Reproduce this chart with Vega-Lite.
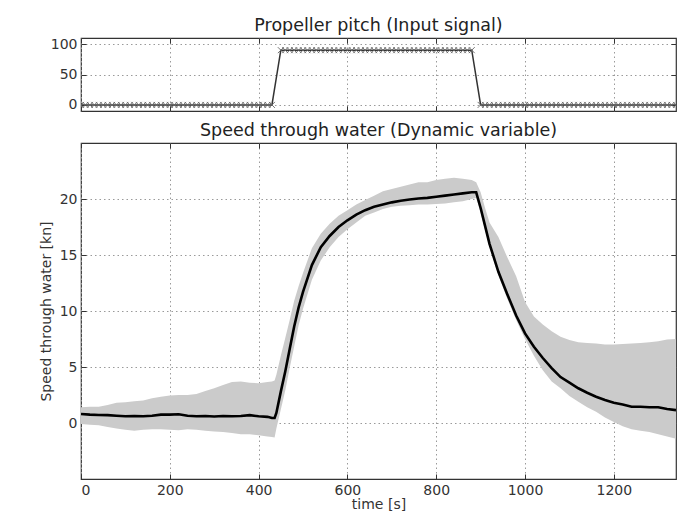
{
  "$schema": "https://vega.github.io/schema/vega-lite/v6.json",
  "background": "white",
  "padding": {"left": 38, "top": 15, "right": 21, "bottom": 5},
  "config": {
    "font": "DejaVu Sans",
    "view": {"stroke": "#333", "strokeWidth": 1.2},
    "title": {"font": "DejaVu Sans", "fontSize": 17.5, "fontWeight": "normal", "color": "#222", "baseline": "alphabetic", "offset": 3},
    "axis": {
      "labelFont": "DejaVu Sans", "titleFont": "DejaVu Sans",
      "labelFontSize": 14, "titleFontSize": 14, "titleFontWeight": "normal",
      "labelColor": "#333", "titleColor": "#333",
      "tickColor": "#333", "tickSize": -5, "tickWidth": 1, "labelPadding": 9,
      "domain": false, "grid": true, "gridColor": "#9a9a9a", "gridDash": [1.5, 3], "gridWidth": 1
    },
    "concat": {"spacing": 8}
  },
  "datasets": {
    "pitch": [
      {"t":0,"p":0},{"t":10,"p":0},{"t":20,"p":0},{"t":30,"p":0},{"t":40,"p":0},{"t":50,"p":0},{"t":60,"p":0},{"t":70,"p":0},{"t":80,"p":0},{"t":90,"p":0},
      {"t":100,"p":0},{"t":110,"p":0},{"t":120,"p":0},{"t":130,"p":0},{"t":140,"p":0},{"t":150,"p":0},{"t":160,"p":0},{"t":170,"p":0},{"t":180,"p":0},{"t":190,"p":0},
      {"t":200,"p":0},{"t":210,"p":0},{"t":220,"p":0},{"t":230,"p":0},{"t":240,"p":0},{"t":250,"p":0},{"t":260,"p":0},{"t":270,"p":0},{"t":280,"p":0},{"t":290,"p":0},
      {"t":300,"p":0},{"t":310,"p":0},{"t":320,"p":0},{"t":330,"p":0},{"t":340,"p":0},{"t":350,"p":0},{"t":360,"p":0},{"t":370,"p":0},{"t":380,"p":0},{"t":390,"p":0},
      {"t":400,"p":0},{"t":410,"p":0},{"t":420,"p":0},{"t":430,"p":0},
      {"t":450,"p":90},{"t":460,"p":90},{"t":470,"p":90},{"t":480,"p":90},{"t":490,"p":90},
      {"t":500,"p":90},{"t":510,"p":90},{"t":520,"p":90},{"t":530,"p":90},{"t":540,"p":90},{"t":550,"p":90},{"t":560,"p":90},{"t":570,"p":90},{"t":580,"p":90},{"t":590,"p":90},
      {"t":600,"p":90},{"t":610,"p":90},{"t":620,"p":90},{"t":630,"p":90},{"t":640,"p":90},{"t":650,"p":90},{"t":660,"p":90},{"t":670,"p":90},{"t":680,"p":90},{"t":690,"p":90},
      {"t":700,"p":90},{"t":710,"p":90},{"t":720,"p":90},{"t":730,"p":90},{"t":740,"p":90},{"t":750,"p":90},{"t":760,"p":90},{"t":770,"p":90},{"t":780,"p":90},{"t":790,"p":90},
      {"t":800,"p":90},{"t":810,"p":90},{"t":820,"p":90},{"t":830,"p":90},{"t":840,"p":90},{"t":850,"p":90},{"t":860,"p":90},{"t":870,"p":90},{"t":880,"p":90},
      {"t":900,"p":0},{"t":910,"p":0},{"t":920,"p":0},{"t":930,"p":0},{"t":940,"p":0},{"t":950,"p":0},{"t":960,"p":0},{"t":970,"p":0},{"t":980,"p":0},{"t":990,"p":0},
      {"t":1000,"p":0},{"t":1010,"p":0},{"t":1020,"p":0},{"t":1030,"p":0},{"t":1040,"p":0},{"t":1050,"p":0},{"t":1060,"p":0},{"t":1070,"p":0},{"t":1080,"p":0},{"t":1090,"p":0},
      {"t":1100,"p":0},{"t":1110,"p":0},{"t":1120,"p":0},{"t":1130,"p":0},{"t":1140,"p":0},{"t":1150,"p":0},{"t":1160,"p":0},{"t":1170,"p":0},{"t":1180,"p":0},{"t":1190,"p":0},
      {"t":1200,"p":0},{"t":1210,"p":0},{"t":1220,"p":0},{"t":1230,"p":0},{"t":1240,"p":0},{"t":1250,"p":0},{"t":1260,"p":0},{"t":1270,"p":0},{"t":1280,"p":0},{"t":1290,"p":0},
      {"t":1300,"p":0},{"t":1310,"p":0},{"t":1320,"p":0},{"t":1330,"p":0},{"t":1340,"p":0}
    ],
    "speed": [
      {"t":0,"m":0.8,"lo":-0.1,"hi":1.4},
      {"t":20,"m":0.75,"lo":-0.15,"hi":1.45},
      {"t":40,"m":0.72,"lo":-0.2,"hi":1.45},
      {"t":60,"m":0.7,"lo":-0.35,"hi":1.6},
      {"t":80,"m":0.65,"lo":-0.5,"hi":1.8},
      {"t":100,"m":0.6,"lo":-0.6,"hi":1.85},
      {"t":120,"m":0.62,"lo":-0.7,"hi":1.95},
      {"t":140,"m":0.6,"lo":-0.6,"hi":2.0},
      {"t":160,"m":0.65,"lo":-0.55,"hi":2.2},
      {"t":180,"m":0.75,"lo":-0.55,"hi":2.35},
      {"t":200,"m":0.75,"lo":-0.6,"hi":2.45},
      {"t":220,"m":0.78,"lo":-0.65,"hi":2.5},
      {"t":240,"m":0.65,"lo":-0.55,"hi":2.5},
      {"t":260,"m":0.6,"lo":-0.6,"hi":2.6},
      {"t":280,"m":0.62,"lo":-0.7,"hi":2.85},
      {"t":300,"m":0.58,"lo":-0.75,"hi":3.1},
      {"t":320,"m":0.62,"lo":-0.8,"hi":3.4},
      {"t":340,"m":0.6,"lo":-0.9,"hi":3.65},
      {"t":360,"m":0.62,"lo":-1.0,"hi":3.7},
      {"t":380,"m":0.7,"lo":-1.0,"hi":3.6},
      {"t":400,"m":0.6,"lo":-1.1,"hi":3.55},
      {"t":420,"m":0.55,"lo":-1.2,"hi":3.65},
      {"t":430,"m":0.45,"lo":-1.25,"hi":3.7},
      {"t":436,"m":0.45,"lo":-1.3,"hi":3.8},
      {"t":440,"m":0.9,"lo":-0.5,"hi":4.3},
      {"t":450,"m":2.8,"lo":1.2,"hi":6.0},
      {"t":460,"m":4.6,"lo":2.9,"hi":7.6},
      {"t":470,"m":6.6,"lo":4.9,"hi":9.2},
      {"t":480,"m":8.6,"lo":6.8,"hi":10.9},
      {"t":490,"m":10.3,"lo":8.7,"hi":12.2},
      {"t":500,"m":11.7,"lo":10.2,"hi":13.4},
      {"t":520,"m":14.1,"lo":12.8,"hi":15.6},
      {"t":540,"m":15.7,"lo":14.5,"hi":16.9},
      {"t":560,"m":16.7,"lo":15.7,"hi":17.8},
      {"t":580,"m":17.5,"lo":16.6,"hi":18.5},
      {"t":600,"m":18.1,"lo":17.3,"hi":19.0},
      {"t":620,"m":18.6,"lo":17.9,"hi":19.5},
      {"t":640,"m":19.0,"lo":18.5,"hi":19.9},
      {"t":660,"m":19.3,"lo":18.8,"hi":20.3},
      {"t":680,"m":19.5,"lo":19.1,"hi":20.7},
      {"t":700,"m":19.7,"lo":19.3,"hi":20.9},
      {"t":720,"m":19.85,"lo":19.4,"hi":21.1},
      {"t":740,"m":19.95,"lo":19.45,"hi":21.3},
      {"t":760,"m":20.05,"lo":19.5,"hi":21.5},
      {"t":780,"m":20.1,"lo":19.5,"hi":21.5},
      {"t":800,"m":20.2,"lo":19.55,"hi":21.7},
      {"t":820,"m":20.3,"lo":19.6,"hi":21.8},
      {"t":840,"m":20.4,"lo":19.7,"hi":21.9},
      {"t":860,"m":20.5,"lo":19.8,"hi":21.8},
      {"t":880,"m":20.6,"lo":20.0,"hi":21.7},
      {"t":890,"m":20.6,"lo":20.1,"hi":21.5},
      {"t":900,"m":19.2,"lo":18.8,"hi":20.6},
      {"t":910,"m":17.6,"lo":17.2,"hi":19.2},
      {"t":920,"m":16.0,"lo":15.7,"hi":17.9},
      {"t":940,"m":13.5,"lo":13.2,"hi":16.6},
      {"t":960,"m":11.5,"lo":11.1,"hi":14.8},
      {"t":980,"m":9.6,"lo":9.2,"hi":13.1},
      {"t":1000,"m":8.0,"lo":7.5,"hi":10.8},
      {"t":1020,"m":6.8,"lo":6.0,"hi":9.5},
      {"t":1040,"m":5.8,"lo":4.7,"hi":8.8},
      {"t":1060,"m":4.9,"lo":3.7,"hi":8.2},
      {"t":1080,"m":4.1,"lo":3.1,"hi":7.7},
      {"t":1100,"m":3.6,"lo":2.4,"hi":7.4},
      {"t":1120,"m":3.1,"lo":1.9,"hi":7.2},
      {"t":1140,"m":2.7,"lo":1.4,"hi":7.15},
      {"t":1160,"m":2.35,"lo":1.0,"hi":7.1},
      {"t":1180,"m":2.05,"lo":0.5,"hi":7.0},
      {"t":1200,"m":1.8,"lo":0.1,"hi":7.0},
      {"t":1220,"m":1.65,"lo":-0.3,"hi":7.05},
      {"t":1240,"m":1.45,"lo":-0.55,"hi":7.1},
      {"t":1260,"m":1.45,"lo":-0.7,"hi":7.15},
      {"t":1280,"m":1.4,"lo":-0.8,"hi":7.2},
      {"t":1300,"m":1.4,"lo":-1.0,"hi":7.3},
      {"t":1320,"m":1.25,"lo":-1.2,"hi":7.45},
      {"t":1340,"m":1.15,"lo":-1.4,"hi":7.5}
    ]
  },
  "vconcat": [
    {
      "title": "Propeller pitch (Input signal)",
      "width": 595,
      "height": 73,
      "data": {"name": "pitch"},
      "layer": [
        {
          "mark": {"type": "line", "color": "#333", "strokeWidth": 1.5, "clip": true},
          "encoding": {
            "x": {"field": "t", "type": "quantitative", "scale": {"domain": [0, 1340], "nice": false, "zero": false},
                  "axis": {"orient": "bottom", "title": null, "labels": false, "values": [0, 200, 400, 600, 800, 1000, 1200]}},
            "y": {"field": "p", "type": "quantitative", "scale": {"domain": [-10, 110], "nice": false},
                  "axis": {"orient": "left", "title": null, "values": [0, 50, 100]}}
          }
        },
        {
          "mark": {"type": "point", "shape": "M-1,-1L1,1M-1,1L1,-1", "filled": false, "stroke": "#666", "strokeWidth": 1, "size": 36, "opacity": 0.9, "clip": true},
          "encoding": {
            "x": {"field": "t", "type": "quantitative",
                  "axis": {"orient": "top", "title": null, "labels": false, "grid": false, "values": [0, 200, 400, 600, 800, 1000, 1200]}},
            "y": {"field": "p", "type": "quantitative",
                  "axis": {"orient": "right", "title": null, "labels": false, "grid": false, "values": [0, 50, 100]}}
          }
        }
      ],
      "resolve": {"axis": {"x": "independent", "y": "independent"}}
    },
    {
      "title": "Speed through water (Dynamic variable)",
      "width": 595,
      "height": 336,
      "data": {"name": "speed"},
      "layer": [
        {
          "mark": {"type": "area", "color": "#cbcbcb", "opacity": 1, "clip": true},
          "encoding": {
            "x": {"field": "t", "type": "quantitative", "scale": {"domain": [0, 1340], "nice": false, "zero": false},
                  "axis": {"orient": "bottom", "title": "time [s]", "titlePadding": 0, "format": "d", "values": [0, 200, 400, 600, 800, 1000, 1200]}},
            "y": {"field": "lo", "type": "quantitative", "scale": {"domain": [-5, 25], "nice": false},
                  "axis": {"orient": "left", "title": "Speed through water [kn]", "titlePadding": 6, "values": [0, 5, 10, 15, 20]}},
            "y2": {"field": "hi"}
          }
        },
        {
          "mark": {"type": "line", "color": "#000", "strokeWidth": 2.6, "clip": true},
          "encoding": {
            "x": {"field": "t", "type": "quantitative",
                  "axis": {"orient": "top", "title": null, "labels": false, "grid": false, "values": [0, 200, 400, 600, 800, 1000, 1200]}},
            "y": {"field": "m", "type": "quantitative",
                  "axis": {"orient": "right", "title": null, "labels": false, "grid": false, "values": [0, 5, 10, 15, 20]}}
          }
        }
      ],
      "resolve": {"axis": {"x": "independent", "y": "independent"}}
    }
  ]
}
